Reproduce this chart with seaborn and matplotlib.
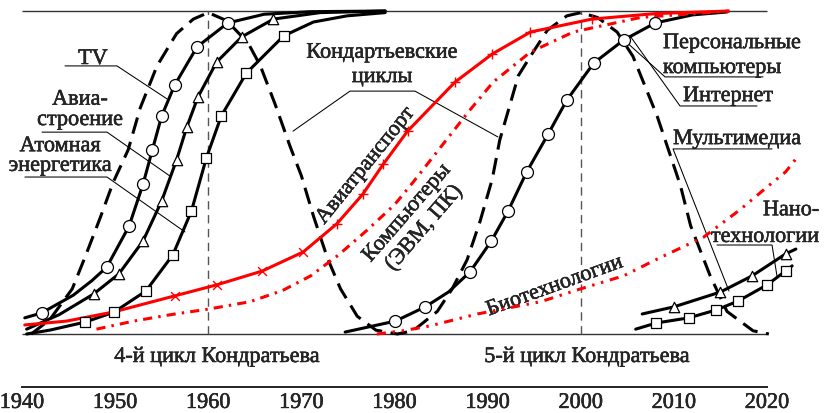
import seaborn as sns
import matplotlib.pyplot as plt
import matplotlib.patheffects as pe
from matplotlib import ticker

# year -> diffusion level (0..1)
kond_years = [1941.0, 1943.0, 1945.4, 1946.8, 1948.4, 1949.8, 1951.4, 1952.7, 1954.5, 1956.6,
              1958.4, 1960.0, 1962.0, 1964.3, 1965.6, 1967.2, 1968.8, 1970.0, 1971.3, 1972.8,
              1974.2, 1976.0, 1978.0, 1980.3, 1982.0, 1984.6, 1986.2, 1987.8, 1989.2, 1990.5,
              1991.3, 1993.3, 1994.6, 1996.4, 1998.5, 2000.0, 2001.8, 2003.9, 2005.6, 2008.2,
              2010.7, 2011.8, 2013.9, 2015.7, 2018.5, 2020.2]
kond_level = [0.0, 0.045, 0.14, 0.24, 0.36, 0.47, 0.57, 0.70, 0.83, 0.93,
              0.975, 0.995, 0.97, 0.90, 0.83, 0.71, 0.58, 0.49, 0.365, 0.235,
              0.14, 0.055, 0.012, 0.0, 0.01, 0.07, 0.14, 0.23, 0.35, 0.48,
              0.60, 0.80, 0.86, 0.94, 0.985, 0.995, 0.98, 0.935, 0.86, 0.675,
              0.46, 0.335, 0.18, 0.07, 0.01, 0.0]

tv_years = [1940.3, 1942.1, 1945.5, 1947.5, 1949.1, 1951.5, 1953.0, 1954.0, 1955.0, 1956.4,
            1958.8, 1962.1, 1966.0, 1971.0, 1979.0]
tv_level = [0.05, 0.065, 0.12, 0.165, 0.207, 0.334, 0.464, 0.570, 0.675, 0.771,
            0.889, 0.963, 0.99, 0.998, 1.0]
tv_mark_years = [1942.1, 1949.1, 1951.5, 1953.0, 1954.0, 1955.0, 1956.4, 1958.8, 1962.1]
tv_mark_level = [0.065, 0.207, 0.334, 0.464, 0.570, 0.675, 0.771, 0.889, 0.963]

avia_years = [1940.5, 1944.0, 1947.7, 1950.4, 1953.0, 1955.0, 1956.6, 1957.7, 1958.9, 1960.9,
              1963.6, 1967.0, 1972.0, 1979.0]
avia_level = [0.015, 0.06, 0.124, 0.186, 0.288, 0.412, 0.539, 0.641, 0.734, 0.842,
              0.920, 0.975, 0.995, 1.0]
avia_mark_years = [1947.7, 1950.4, 1953.0, 1955.0, 1956.6, 1957.7, 1958.9, 1960.9, 1963.6, 1967.0]
avia_mark_level = [0.124, 0.186, 0.288, 0.412, 0.539, 0.641, 0.734, 0.842, 0.920, 0.975]

atom_years = [1940.5, 1943.0, 1946.8, 1949.9, 1953.3, 1956.2, 1958.2, 1959.8, 1961.4, 1964.1,
              1968.1, 1971.3, 1974.9, 1979.0]
atom_level = [0.0, 0.012, 0.037, 0.068, 0.133, 0.245, 0.381, 0.545, 0.675, 0.808,
              0.923, 0.966, 0.985, 0.995]
atom_mark_years = [1946.8, 1949.9, 1953.3, 1956.2, 1958.2, 1959.8, 1961.4, 1964.1, 1968.1]
atom_mark_level = [0.037, 0.068, 0.133, 0.245, 0.381, 0.545, 0.675, 0.808, 0.923]

air_years = [1940.3, 1944.8, 1949.8, 1956.4, 1960.9, 1965.8, 1970.2, 1973.8, 1976.6, 1978.8,
             1981.4, 1986.5, 1990.5, 1994.6, 2001.2, 2008.0, 2015.8]
air_level = [0.028, 0.04, 0.068, 0.118, 0.152, 0.195, 0.254, 0.341, 0.433, 0.526,
             0.628, 0.780, 0.867, 0.935, 0.975, 0.992, 1.0]
air_x_years = [1956.4, 1960.9, 1965.8, 1970.2]
air_x_level = [0.118, 0.152, 0.195, 0.254]
air_plus_years = [1973.8, 1976.6, 1978.8, 1981.4, 1986.5, 1990.5, 1994.6, 2001.2]
air_plus_level = [0.341, 0.433, 0.526, 0.628, 0.780, 0.867, 0.935, 0.975]

comp_years = [1948.0, 1952.0, 1956.0, 1960.0, 1964.5, 1968.0, 1971.0, 1974.0, 1977.0, 1980.0,
              1982.0, 1985.0, 1988.0, 1990.6, 1994.6, 1999.2, 2006.4, 2016.0]
comp_level = [0.015, 0.04, 0.06, 0.077, 0.10, 0.135, 0.18, 0.245, 0.32, 0.40,
              0.47, 0.58, 0.69, 0.78, 0.873, 0.935, 0.98, 1.0]

pc_years = [1974.7, 1980.1, 1983.3, 1985.8, 1988.1, 1990.4, 1992.2, 1994.2, 1996.5, 1998.5,
            2001.4, 2004.6, 2008.0, 2012.0, 2015.7]
pc_level = [0.006, 0.040, 0.084, 0.13, 0.192, 0.288, 0.381, 0.502, 0.619, 0.724,
            0.839, 0.910, 0.963, 0.988, 0.997]
pc_mark_years = [1980.1, 1983.3, 1988.1, 1990.4, 1992.2, 1994.2, 1996.5, 1998.5, 2001.4, 2004.6, 2008.0]
pc_mark_level = [0.040, 0.084, 0.192, 0.288, 0.381, 0.502, 0.619, 0.724, 0.839, 0.910, 0.963]

bio_years = [1978.1, 1980.9, 1983.8, 1988.9, 1995.7, 1999.9, 2004.6, 2008.2, 2013.2, 2017.2,
             2020.0, 2022.0, 2023.1]
bio_level = [0.0, 0.01, 0.025, 0.062, 0.10, 0.139, 0.18, 0.232, 0.30, 0.387,
             0.455, 0.502, 0.542]

mm_years = [2006.6, 2010.0, 2015.0, 2018.4, 2022.0, 2023.1]
mm_level = [0.062, 0.084, 0.130, 0.180, 0.248, 0.263]
mm_mark_years = [2010.0, 2015.0, 2018.4, 2022.0]
mm_mark_level = [0.084, 0.130, 0.180, 0.248]

nano_years = [2005.9, 2008.1, 2011.6, 2014.5, 2016.9, 2020.0, 2022.0, 2022.7]
nano_level = [0.015, 0.034, 0.050, 0.074, 0.102, 0.152, 0.195, 0.211]
nano_mark_years = [2008.1, 2011.6, 2014.5, 2016.9, 2020.0, 2022.0]
nano_mark_level = [0.034, 0.050, 0.074, 0.102, 0.152, 0.195]

decades = [1950, 1960, 1970, 1990, 2000, 2010]
cycle_bounds = [1940, 1980, 2020]
cycle_peaks = [1960, 2000]

sns.set_style("white")
plt.rcParams["font.family"] = ["Liberation Serif", "DejaVu Serif"]

RED = "#ff0000"
fs = 16
heavy = [pe.withStroke(linewidth=0.35, foreground="black")]

fig = plt.figure(figsize=(8.24, 4.14), dpi=100)
ax = fig.add_axes([0, 0, 1, 1])
ax.set_xlim(1937.64, 2026.12)
ax.set_ylim(-0.2446, 1.0372)


def curve(x, y, color="black", ls="-", lw=2.2, z=3):
    sns.lineplot(x=x, y=y, ax=ax, color=color, linestyle=ls, lw=lw,
                 sort=False, estimator=None, zorder=z)


def marks(x, y, marker, s, z=5):
    sns.scatterplot(x=x, y=y, ax=ax, marker=marker, s=s, color="white",
                    edgecolor="black", linewidth=0.9, zorder=z)


def label(x, y, txt, **kw):
    # y is the baseline of the last line
    kw.setdefault("ha", "center")
    kw.setdefault("va", "baseline")
    ax.text(x, y, txt, fontsize=fs, path_effects=heavy, **kw)


# frame of the plotting field
ax.hlines([0, 1], 1940, 2020, colors="#333333", lw=1.0, zorder=1)
ax.vlines(cycle_peaks, 0, 1, colors="#555555", linestyles=[(0, (6, 4))], lw=1.0, zorder=1)

curve(kond_years, kond_level, ls=(0, (5.5, 2.8)), z=2)
curve(tv_years, tv_level)
curve(avia_years, avia_level)
curve(atom_years, atom_level)
curve(pc_years, pc_level)
curve(mm_years, mm_level)
curve(nano_years, nano_level)
curve(air_years, air_level, color=RED, z=4)
curve(comp_years, comp_level, color=RED, ls=(0, (3, 2, 0.8, 2)), z=4)
curve(bio_years, bio_level, color=RED, ls=(0, (3, 2.2, 0.8, 2.2, 0.8, 2.2)), z=4)

marks(tv_mark_years, tv_mark_level, "o", 74)
marks(pc_mark_years, pc_mark_level, "o", 74)
marks(avia_mark_years, avia_mark_level, "^", 56)
marks(mm_mark_years, mm_mark_level, "^", 56)
marks(atom_mark_years, atom_mark_level, "s", 42)
marks(nano_mark_years, nano_mark_level, "s", 42)
sns.scatterplot(x=air_x_years, y=air_x_level, ax=ax, marker="x", s=40, color=RED,
                linewidth=1.0, zorder=5)
sns.scatterplot(x=air_plus_years, y=air_plus_level, ax=ax, marker="+", s=60, color=RED,
                linewidth=1.0, zorder=5)

# labels with underline and leader line
leaders = [
    [(1944.62, 0.830), (1950.20, 0.830), (1955.57, 0.728)],
    [(1942.15, 0.625), (1949.13, 0.625), (1955.89, 0.489)],
    [(1940.32, 0.486), (1949.13, 0.486), (1957.50, 0.316)],
    [(1969.10, 0.628), (1975.22, 0.752), (1982.20, 0.752), (1991.11, 0.610)],
    [(2019.57, 0.796), (2009.05, 0.796), (2004.54, 0.913)],
    [(2018.93, 0.706), (2010.66, 0.706), (2005.29, 0.923)],
    [(2020.54, 0.573), (2009.91, 0.573), (2015.92, 0.133)],
    [(2014.63, 0.2755), (2020.54, 0.2755), (2021.07, 0.1796)],
]
for pts in leaders:
    xs, ys = zip(*pts)
    ax.plot(xs, ys, color="black", lw=0.75, zorder=3)

label(1947.62, 0.836, "TV")
label(1946.23, 0.647, "Авиа-\nстроение", linespacing=1.1)
label(1944.1, 0.505, "Атомная\nэнергетика", linespacing=1.05)
label(1978.66, 0.780, "Кондартьевские\nциклы", linespacing=1.38)
label(2008.83, 0.808, "Персональные\nкомпьютеры", ha="left", multialignment="left",
      linespacing=1.42)
label(2010.98, 0.721, "Интернет", ha="left")
label(2009.91, 0.588, "Мультимедиа", ha="left")
label(2025.6, 0.285, "Нано-\nтехнологии", ha="right", multialignment="right", linespacing=1.55)

label(1976.94, 0.520, "Авиатранспорт", va="center", rotation=51, rotation_mode="anchor")
label(1982.31, 0.350, "Компьютеры\n(ЭВМ, ПК)", va="center", rotation=49,
      rotation_mode="anchor", linespacing=1.25)
label(1997.23, 0.146, "Биотехнологии", va="center", rotation=20, rotation_mode="anchor")

label(1960.94, -0.0867, "4-й цикл Кондратьева")
label(2000.67, -0.0867, "5-й цикл Кондратьева")

# year axis below the field
for s in ["top", "left", "right"]:
    ax.spines[s].set_visible(False)
ax.spines["bottom"].set_position(("data", -0.164))
ax.spines["bottom"].set_bounds(1940, 2020)
ax.spines["bottom"].set_color("#222222")
ax.spines["bottom"].set_linewidth(1.4)
ax.xaxis.set_major_locator(ticker.FixedLocator(cycle_bounds))
ax.xaxis.set_minor_locator(ticker.FixedLocator(decades))
year_fmt = ticker.FuncFormatter(lambda v, _: f"{v:.0f}")
ax.xaxis.set_major_formatter(year_fmt)
ax.xaxis.set_minor_formatter(year_fmt)
ax.tick_params(axis="x", which="major", direction="in", length=21.6, width=1.0,
               pad=5, labelsize=fs, color="#222222")
ax.tick_params(axis="x", which="minor", direction="in", length=10.8, width=1.0,
               pad=5, labelsize=fs, color="#222222")
for t in ax.get_xticklabels(which="both"):
    t.set_path_effects(heavy)
ax.set_yticks([])
ax.set_xlabel("")
ax.set_ylabel("")
ax.grid(False)

fig.savefig("out.png", dpi=100)
